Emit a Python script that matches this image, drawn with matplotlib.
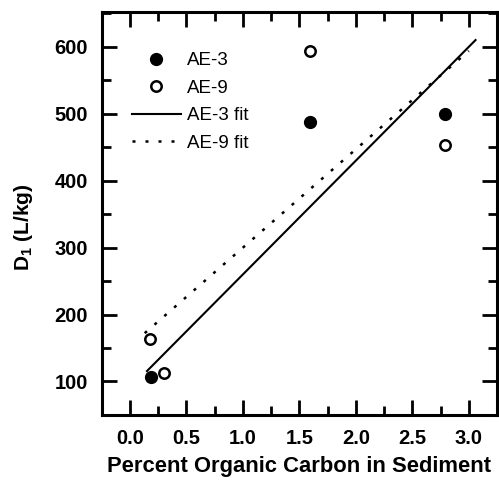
import matplotlib
matplotlib.use("Agg")
import matplotlib.pyplot as plt
import numpy as np
from matplotlib.ticker import MultipleLocator, FormatStrFormatter

plt.rcParams['font.family'] = ['Liberation Sans', 'DejaVu Sans']
plt.rcParams['mathtext.fontset'] = 'custom'
plt.rcParams['mathtext.rm'] = 'Liberation Sans:bold'
plt.rcParams['mathtext.it'] = 'Liberation Sans:bold'

# Data
ae3_x = [0.19, 1.59, 2.79]
ae3_y = [107, 488, 500]
ae9_x = [0.18, 0.30, 1.59, 2.79]
ae9_y = [164, 112, 594, 453]
fit3_x = [0.15, 3.06]
fit3_int, fit3_slope = 90, 170
fit9_x = [0.13, 3.0]
fit9_int, fit9_slope = 153, 147
x_ticks = [0.0, 0.5, 1.0, 1.5, 2.0, 2.5, 3.0]
y_ticks = [100, 200, 300, 400, 500, 600]

fig = plt.figure(figsize=(4.99, 4.83), dpi=100)
ax = fig.add_axes([0.204, 0.141, 0.792, 0.834])

fx3 = np.array(fit3_x)
fx9 = np.array(fit9_x)
ax.plot(ae3_x, ae3_y, 'o', color='black', markersize=8.5, label='AE-3', zorder=3)
ax.plot(ae9_x, ae9_y, 'o', markerfacecolor='white', markeredgecolor='black',
        markeredgewidth=1.8, markersize=7.5, label='AE-9', zorder=4)
ax.plot(fx3, fit3_int + fit3_slope * fx3, '-', color='black', lw=1.5, label='AE-3 fit')
ax.plot(fx9, fit9_int + fit9_slope * fx9, ':', color='black', lw=1.8,
        dashes=(1.2, 4), label='AE-9 fit')

ax.set_xlim(-0.25, 3.25)
ax.set_ylim(50, 652)
ax.set_xticks(x_ticks)
ax.set_yticks(y_ticks)
ax.xaxis.set_minor_locator(MultipleLocator(0.25))
ax.yaxis.set_minor_locator(MultipleLocator(50))
ax.xaxis.set_major_formatter(FormatStrFormatter('%.1f'))
ax.tick_params(which='both', direction='in', top=True, right=True, width=2)
ax.tick_params(which='major', length=11, labelsize=14.5, pad=10)
ax.tick_params(which='minor', length=6.5)
for lbl in ax.get_xticklabels() + ax.get_yticklabels():
    lbl.set_fontweight('bold')
for s in ax.spines.values():
    s.set_linewidth(2.2)

ax.set_xlabel('Percent Organic Carbon in Sediment', fontsize=15.8, fontweight='heavy', labelpad=6)
ax.set_ylabel(r'D$_1$ (L/kg)', fontsize=15, fontweight='bold')
ax.yaxis.set_label_coords(-0.17, 0.465)

leg = ax.legend(loc='upper left', frameon=False, fontsize=13.5, handlelength=2.6,
                handletextpad=0.35, labelspacing=0.55, borderaxespad=0.0,
                borderpad=0.0, bbox_to_anchor=(0.076, 0.9))

fig.savefig('out.png', dpi=100)
